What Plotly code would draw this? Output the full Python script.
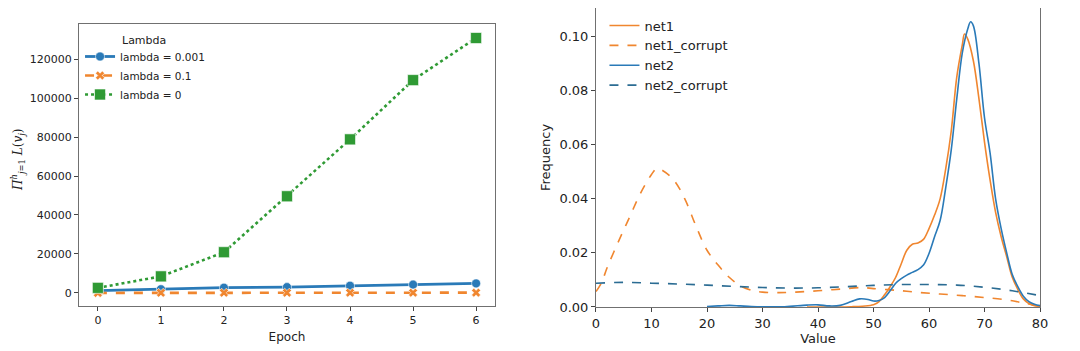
import plotly.graph_objects as go

# ---- left panel: product of likelihoods per epoch ----
epochs = [0, 1, 2, 3, 4, 5, 6]
lam_0001 = [1200, 1900, 2700, 3000, 3700, 4300, 4900]
lam_01 = [0, 60, 80, 100, 110, 130, 150]
lam_0 = [2600, 8500, 20900, 49600, 78800, 109200, 130800]
left_names = ["lambda = 0.001", "lambda = 0.1", "lambda = 0"]

# ---- right panel: frequency curves ----
net1_x = [38, 44, 46, 48, 50, 51, 52, 53, 54, 55, 56, 57, 58, 59, 60, 61, 62,
          63, 64, 65, 66, 66.4, 67, 68, 69, 70, 71, 72, 73, 74, 75, 76, 77,
          78, 79, 80]
net1_y = [0.0, 0.0, 0.0001, 0.0003, 0.0008, 0.002, 0.0045, 0.0075, 0.011,
          0.016, 0.021, 0.0232, 0.0237, 0.025, 0.029, 0.034, 0.040, 0.051,
          0.065, 0.085, 0.097, 0.101, 0.099, 0.091, 0.077, 0.061, 0.047,
          0.035, 0.026, 0.0186, 0.011, 0.0065, 0.003, 0.0013, 0.0005, 0.0002]

net1c_x = [0, 1, 2, 4, 6, 8, 10, 11, 12, 14, 16, 18, 20, 22, 24, 26, 28, 30,
           33, 36, 40, 44, 48, 50, 54, 58, 62, 66, 70, 74, 77, 80]
net1c_y = [0.0057, 0.009, 0.0145, 0.024, 0.033, 0.042, 0.049, 0.0513, 0.0505,
           0.047, 0.040, 0.030, 0.021, 0.0155, 0.011, 0.0078, 0.0062, 0.0055,
           0.0053, 0.0055, 0.006, 0.0066, 0.0072, 0.0068, 0.0062, 0.0054,
           0.0048, 0.0042, 0.0035, 0.0026, 0.0015, 0.0003]

net2_x = [20, 22, 24, 26, 28, 30, 34, 38, 40, 42, 44, 46, 47.5, 49, 50, 51, 52,
          53, 54, 55, 56, 57, 58, 59, 60, 61, 62, 63, 64, 65, 66, 67, 67.5, 68,
          69, 70, 71, 72, 73, 74, 75, 76, 77, 78, 79, 80]
net2_y = [0.0002, 0.0004, 0.0006, 0.0004, 0.0002, 0.0001, 0.0001, 0.0007,
          0.0008, 0.0004, 0.0006, 0.002, 0.003, 0.0028, 0.0022, 0.0024, 0.0035,
          0.006, 0.0088, 0.0105, 0.0118, 0.0128, 0.0138, 0.0155, 0.0198, 0.026,
          0.032, 0.044, 0.058, 0.077, 0.094, 0.103, 0.1055, 0.104, 0.09, 0.07,
          0.057, 0.04, 0.029, 0.02, 0.012, 0.0075, 0.004, 0.002, 0.001, 0.0005]

net2c_x = [0, 5, 10, 15, 20, 25, 30, 35, 40, 45, 50, 55, 60, 65, 70, 75, 80]
net2c_y = [0.0088, 0.0091, 0.0088, 0.0085, 0.0081, 0.0076, 0.0072, 0.007,
           0.0071, 0.0075, 0.008, 0.0083, 0.0083, 0.0081, 0.0073, 0.006, 0.0042]

BLUE = "#2a7ab8"
ORANGE = "#f0862f"
GREEN = "#2f9a34"
FONT = "DejaVu Sans"

fig = go.Figure()

left_styles = [
    (lam_0001, BLUE, "solid", "circle", 9, 2.8),
    (lam_01, ORANGE, "dash", "x", 8, 2.6),
    (lam_0, GREEN, "dot", "square", 11, 2.6),
]
for (vals, color, dash, symbol, msize, width), name in zip(left_styles, left_names):
    fig.add_trace(go.Scatter(
        x=epochs, y=vals, name=name, mode="lines+markers",
        line={"color": color, "dash": dash, "width": width},
        marker={"symbol": symbol, "size": msize, "color": color,
                "line": {"color": "white", "width": 0.6}},
        xaxis="x", yaxis="y", legend="legend",
    ))

right_series = [
    ("net1", net1_x, net1_y, ORANGE, "solid"),
    ("net1_corrupt", net1c_x, net1c_y, ORANGE, "dash"),
    ("net2", net2_x, net2_y, BLUE, "solid"),
    ("net2_corrupt", net2c_x, net2c_y, "#2b6c93", "dash"),
]
for name, xs, ys, color, dash in right_series:
    fig.add_trace(go.Scatter(
        x=xs, y=ys, name=name, mode="lines",
        line={"color": color, "dash": dash, "width": 1.6, "shape": "spline"},
        xaxis="x2", yaxis="y2", legend="legend2",
    ))

axis_common = dict(
    showline=True, linecolor="#707070", linewidth=1.1, mirror=True,
    showgrid=False, zeroline=False, ticks="outside", ticklen=4,
    tickcolor="#444", color="#222", automargin=False,
)

# the page body adds an 8px margin, so the figure is sized to fit inside it
fig.update_layout(
    width=1072, height=343,
    margin={"l": 0, "r": 0, "t": 0, "b": 0},
    paper_bgcolor="white", plot_bgcolor="white",
    font={"family": FONT, "color": "#222"},
    xaxis=dict(axis_common, domain=[0.0662, 0.4543], range=[-0.3, 6.3],
               tickvals=epochs, tickfont={"size": 11},
               title={"text": "Epoch", "font": {"size": 12}, "standoff": 6}),
    yaxis=dict(axis_common, domain=[0.1312, 0.9534], range=[-6700, 138000],
               tickvals=[0, 20000, 40000, 60000, 80000, 100000, 120000],
               tickformat="d", tickfont={"size": 11}),
    xaxis2=dict(axis_common, domain=[0.5485, 0.9627], range=[0, 80], dtick=10,
                tickfont={"size": 13}, anchor="y2",
                title={"text": "Value", "font": {"size": 13}, "standoff": 4}),
    yaxis2=dict(axis_common, domain=[0.1283, 1.0], range=[0, 0.1106],
                dtick=0.02, tickformat=".2f", tickfont={"size": 13},
                anchor="x2",
                title={"text": "Frequency", "font": {"size": 13}, "standoff": 5}),
    legend=dict(x=0.0672, y=0.9009, xanchor="left", yanchor="top",
                bgcolor="rgba(0,0,0,0)", font={"size": 10.5},
                itemwidth=30, tracegroupgap=0),
    legend2=dict(x=0.5564, y=0.9927, xanchor="left", yanchor="top",
                 bgcolor="rgba(0,0,0,0)", font={"size": 13},
                 tracegroupgap=0),
    showlegend=True,
)

# legend title sits above the labels, as in the original
fig.add_annotation(text="Lambda", x=0.1045, y=0.9067, xref="paper", yref="paper",
                   xanchor="left", yanchor="middle", showarrow=False,
                   font={"size": 11, "family": FONT, "color": "#222"})

# y title of the left panel
fig.add_annotation(
    text="<i>Π</i><sup><i>h</i></sup><sub><i>j</i>=1</sub> <i>L</i>(<i>v<sub>j</sub></i>)",
    x=0.0093, y=0.557, xref="paper", yref="paper", textangle=-90,
    xanchor="center", yanchor="middle",
    showarrow=False, font={"size": 12, "family": "DejaVu Serif", "color": "#222"},
)

fig.write_html("out.html")
